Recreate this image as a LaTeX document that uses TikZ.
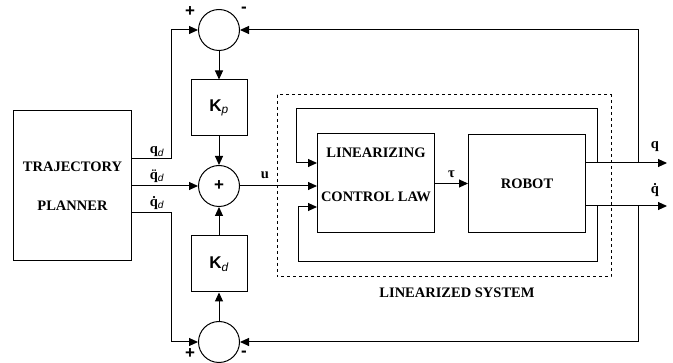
\documentclass[tikz,border=0pt]{standalone}
\usepackage{fontspec}
\setmainfont{Liberation Serif}
\newfontfamily\arialfont{Liberation Sans}
\usetikzlibrary{arrows.meta, positioning}

\begin{document}
\begin{tikzpicture}[
  x=1pt, y=1pt,
  box/.style={draw, line width=1pt, align=center, inner sep=0pt, font=\fontsize{14.5}{17}\selectfont\bfseries},
  sum/.style={draw, circle, line width=1pt, minimum size=41pt, inner sep=0pt, font=\arialfont\fontsize{17}{19}\selectfont\bfseries},
  gain/.style={box, minimum width=56pt, minimum height=56pt, font=\arialfont\fontsize{17}{19}\selectfont\bfseries},
  lbl/.style={font=\fontsize{14.5}{17}\selectfont\bfseries, inner sep=0pt},
  sgn/.style={font=\arialfont\fontsize{17}{19}\selectfont\bfseries, inner sep=0pt},
  arr/.style={-{Triangle[length=9pt, width=8pt]}, line width=1pt}
]
  \useasboundingbox (0,0) rectangle (673,-363);

  \node[sum] (sm) at (219,-186) {+};
  \node[gain, above=28.5pt of sm] (kp) {K\textsubscript{\mdseries\itshape p}};
  \node[sum, above=28.5pt of kp] (st) {};
  \node[gain, below=28.5pt of sm] (kd) {K\textsubscript{\mdseries\itshape d}};
  \node[sum, below=28.5pt of kd] (sb) {};
  \node[box, minimum width=118pt, minimum height=150pt, left=66pt of sm] (tp) {TRAJECTORY\\[22pt]PLANNER};
  \node[box, minimum width=117pt, minimum height=99pt, right=77pt of sm, yshift=2.5pt] (cl) {};
  \node[lbl, align=center] (cltxt) at ([yshift=9pt]cl.center) {LINEARIZING\\[27pt]CONTROL LAW};
  \node[box, minimum width=117pt, minimum height=98pt, right=33pt of cl] (rb) {ROBOT};

  % signs at the summing points
  \node[sgn] (stp) at ([shift={(-29pt,18pt)}]st.center) {+};
  \node[sgn] (stm) at ([shift={(25pt,20pt)}]st.center) {-};
  \node[sgn] (sbp) at ([shift={(-29pt,-12pt)}]sb.center) {+};
  \node[sgn] (sbm) at ([shift={(25pt,-12pt)}]sb.center) {-};

  % signal labels
  \node[lbl] (lqd) at (157,-152) {q\textsubscript{\arialfont\mdseries\itshape d}};
  \node[lbl] (lddq) at (157,-176) {\"q\textsubscript{\arialfont\mdseries\itshape d}};
  \node[lbl] (ldq) at (157,-203) {\.q\textsubscript{\arialfont\mdseries\itshape d}};
  \node[lbl] (lu) at (265,-175) {u};
  \node[lbl] (lq) at (655,-147) {q};
  \node[lbl] (ldqo) at (655,-190) {\.q};

  \coordinate (xp) at (171,0);
  \coordinate (xl) at (296,0);
  \coordinate (xl2) at (298,0);
  \coordinate (xb) at (597,0);
  \coordinate (xf) at (638,0);
  \coordinate (xe) at (667,0);
  \coordinate (yt) at (0,-109);
  \coordinate (yb) at (0,-262);
  \coordinate (pq) at ([yshift=27pt]tp.east);
  \coordinate (pdq) at ([yshift=-27pt]tp.east);
  \coordinate (ci1) at ([yshift=20.5pt]cl.west);
  \coordinate (ci2) at ([yshift=-23.5pt]cl.west);
  \coordinate (qo) at ([yshift=20.5pt]rb.east);
  \coordinate (dqo) at ([yshift=-22.5pt]rb.east);

  \draw[dashed, line width=1pt] (277,-95) rectangle (611,-277);
  \node[lbl] (ls) at (457,-293) {LINEARIZED SYSTEM};

  \draw[arr] (pq) -- (xp |- pq) |- (st.west);
  \draw[arr] (tp.east) -- (sm.west);
  \draw[arr] (pdq) -- (xp |- pdq) |- (sb.west);
  \draw[arr] (st) -- (kp);
  \draw[arr] (kp) -- (sm);
  \draw[arr] (sb) -- (kd);
  \draw[arr] (kd) -- (sm);
  \draw[arr] (sm.east) -- (sm.east -| cl.west);
  \draw[arr] (cl) -- (rb) node[lbl, midway, above=5pt] (ltau) {τ};
  \draw[arr] (qo) -- (xe |- qo);
  \draw[arr] (dqo) -- (xe |- dqo);
  \draw[arr] (xb |- qo) |- (xl |- yt) |- (ci1);
  \draw[arr] (xb |- dqo) |- (xl2 |- yb) |- (ci2);
  \draw[arr] (xf |- qo) |- (st.east);
  \draw[arr] (xf |- dqo) |- (sb.east);
\end{tikzpicture}
\end{document}
